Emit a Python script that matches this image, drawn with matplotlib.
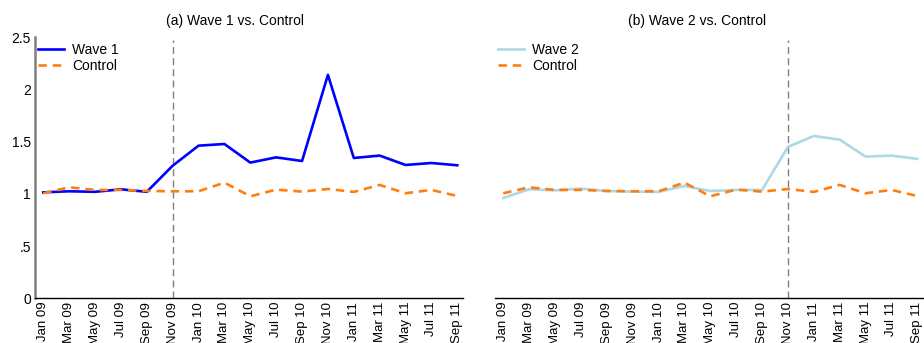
import matplotlib
matplotlib.use("Agg")
import matplotlib.pyplot as plt
import numpy as np

plt.rcParams['font.family'] = ['Liberation Sans', 'DejaVu Sans']

months = ["Jan 09", "Mar 09", "May 09", "Jul 09", "Sep 09", "Nov 09",
          "Jan 10", "Mar 10", "May 10", "Jul 10", "Sep 10", "Nov 10",
          "Jan 11", "Mar 11", "May 11", "Jul 11", "Sep 11"]

wave1 = [1.015, 1.025, 1.02, 1.044, 1.02, 1.27, 1.462, 1.478, 1.30, 1.35,
         1.315, 2.14, 1.344, 1.367, 1.277, 1.296, 1.274]
wave2 = [0.961, 1.044, 1.034, 1.05, 1.028, 1.022, 1.019, 1.076, 1.028, 1.038,
         1.038, 1.45, 1.555, 1.52, 1.357, 1.367, 1.335]
control = [1.006, 1.063, 1.038, 1.038, 1.028, 1.025, 1.025, 1.108, 0.977, 1.041,
           1.022, 1.047, 1.019, 1.086, 1.006, 1.038, 0.98]

yticks = [0, 0.5, 1, 1.5, 2, 2.5]
ytick_labels = ["0", ".5", "1", "1.5", "2", "2.5"]

W, H = 924, 343
fig = plt.figure(figsize=(W / 100, H / 100), dpi=100)

x = np.arange(len(months))
xlim = (-0.32, 16.22)

ax_w = 428 / W
ax_b = (H - 298.3) / H
ax_h = 261.0 / H
axes = [fig.add_axes([35 / W, ax_b, ax_w, ax_h]),
        fig.add_axes([495 / W, ax_b, ax_w, ax_h])]

panels = [
    ("(a) Wave 1 vs. Control", wave1, "Wave 1", "#0000ff", 5, 235),
    ("(b) Wave 2 vs. Control", wave2, "Wave 2", "#add8e6", 11, 697),
]

for i, (ax, (title, wave, wlabel, wcolor, event, tx)) in enumerate(zip(axes, panels)):
    ax.plot(x, wave, color=wcolor, lw=1.9, label=wlabel, zorder=3)
    ax.plot(x, control, color="#ff7f0e", lw=1.9, ls=(0, (3.2, 2.2)),
            label="Control", zorder=3)
    ax.axvline(event, color="#808080", lw=1.0, ls=(0, (5, 3)), zorder=2,
               ymax=0.99)
    ax.set_xlim(*xlim)
    ax.set_ylim(0, 2.5)
    ax.set_xticks(x)
    ax.set_xticklabels(months, rotation=90, fontsize=9.5, va="top")
    ax.tick_params(axis="x", length=0, pad=2.5)
    for s in ["top", "right"]:
        ax.spines[s].set_visible(False)
    ax.spines["bottom"].set_color("black")
    ax.spines["bottom"].set_linewidth(1.0)
    if i == 0:
        ax.set_yticks(yticks)
        ax.set_yticklabels(ytick_labels, fontsize=10)
        ax.tick_params(axis="y", length=0, pad=3)
        ax.spines["left"].set_color("#808080")
        ax.spines["left"].set_linewidth(1.8)
    else:
        ax.set_yticks([])
        ax.spines["left"].set_visible(False)
    ax.legend(loc="upper left", bbox_to_anchor=(-0.0054, 1.0), frameon=False,
              fontsize=10, handlelength=1.85, handletextpad=0.58,
              labelspacing=0.15, borderaxespad=0.0)
    fig.text(tx / W, 1 - 21 / H, title, ha="center", va="center", fontsize=10)

fig.savefig("out.png", dpi=100)
